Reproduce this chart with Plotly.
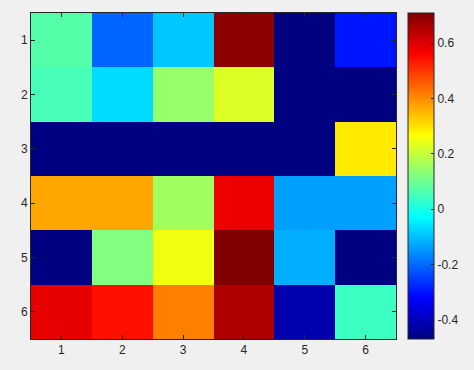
import plotly.graph_objects as go
import numpy as np

x_labels = [1, 2, 3, 4, 5, 6]
y_labels = [1, 2, 3, 4, 5, 6]
row1 = [0.070, -0.206, -0.092, 0.694, -0.469, -0.298]
row2 = [0.055, -0.068, 0.146, 0.226, -0.469, -0.469]
row3 = [-0.469, -0.469, -0.469, -0.469, -0.469, 0.291]
row4 = [0.370, 0.370, 0.158, 0.580, -0.137, -0.137]
row5 = [-0.469, 0.122, 0.250, 0.709, -0.119, -0.469]
row6 = [0.591, 0.544, 0.415, 0.654, -0.414, 0.042]
cb_tickvals = [-0.4, -0.2, 0, 0.2, 0.4, 0.6]
cb_ticktext = ["-0.4", "-0.2", "0", "0.2", "0.4", "0.6"]

z = [row1, row2, row3, row4, row5, row6]


def jet(t):
    r = np.clip(1.5 - abs(4 * t - 3), 0, 1)
    g = np.clip(1.5 - abs(4 * t - 2), 0, 1)
    b = np.clip(1.5 - abs(4 * t - 1), 0, 1)
    return "rgb(%d,%d,%d)" % (round(r * 255), round(g * 255), round(b * 255))


jet_scale = [[t, jet(t)] for t in np.linspace(0, 1, 65)]

txt = dict(family="Liberation Sans, Arial, sans-serif", size=12, color="#262626")

fig = go.Figure(go.Heatmap(
    x=x_labels, y=y_labels, z=z,
    colorscale=jet_scale, zmin=min(map(min, z)), zmax=max(map(max, z)),
    colorbar=dict(
        x=(408 - 31) / 365, xanchor="left", xpad=0, ypad=0,
        y=0.5, yanchor="middle", len=1, lenmode="fraction",
        thickness=26, thicknessmode="pixels",
        outlinewidth=1, outlinecolor="#262626",
        tickvals=cb_tickvals, ticktext=cb_ticktext,
        ticks="inside", ticklen=3, tickcolor="#262626",
        tickfont=txt,
    ),
))

axis_common = dict(
    showline=True, linecolor="#262626", linewidth=1, mirror="ticks",
    ticks="inside", ticklen=4, tickcolor="#262626", tickfont=txt,
    showgrid=False, zeroline=False, tickmode="array",
)
fig.update_xaxes(range=[0.5, 6.5], tickvals=x_labels, **axis_common)
fig.update_yaxes(range=[6.5, 0.5], tickvals=y_labels, **axis_common)

fig.update_layout(
    width=474, height=370,
    margin=dict(l=31, r=78, t=13, b=31),
    paper_bgcolor="#f0f0f0", plot_bgcolor="#f0f0f0",
    font=txt,
)

fig.write_html("out.html")
